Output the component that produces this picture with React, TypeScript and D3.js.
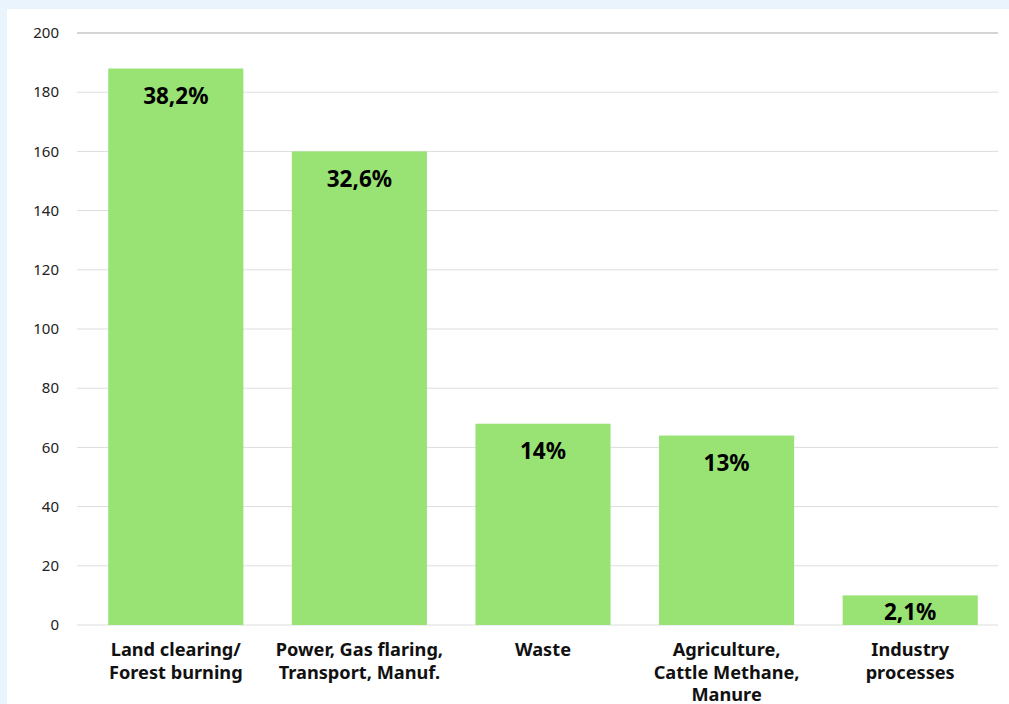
import React from "react";
import * as d3 from "d3";

const categories: string[][] = [
  ["Land clearing/", "Forest burning"],
  ["Power, Gas flaring,", "Transport, Manuf."],
  ["Waste"],
  ["Agriculture,", "Cattle Methane,", "Manure"],
  ["Industry", "processes"],
];
const values: number[] = [188, 160, 68, 64, 10];
const shares: string[] = ["38,2%", "32,6%", "14%", "13%", "2,1%"];
const yTicks: number[] = [0, 20, 40, 60, 80, 100, 120, 140, 160, 180, 200];

const W = 1009;
const H = 704;
const font = "'Noto Sans', 'Open Sans', sans-serif";

export default function App() {
  const y = d3.scaleLinear().domain([0, 200]).range([625, 33]);
  const x = d3
    .scaleBand<number>()
    .domain(values.map((_, i) => i))
    .range([84, 1002])
    .paddingInner(0.264)
    .paddingOuter(0.132);

  return (
    <svg
      width={W}
      height={H}
      style={{ position: "fixed", left: 0, top: 0, display: "block" }}
      fontFamily={font}
    >
      <rect x={0} y={0} width={W} height={H} fill="#EAF4FD" />
      <rect x={7} y={9} width={W - 7} height={H - 9} fill="#FFFFFF" />
      {yTicks.map((t) => (
        <g key={t}>
          <line
            x1={77}
            x2={998}
            y1={y(t)}
            y2={y(t)}
            stroke={t === 200 ? "#aaaaaa" : "#dddddd"}
            strokeWidth={1}
          />
          <text
            x={59}
            y={y(t)}
            dy="0.35em"
            textAnchor="end"
            fontSize={15}
            fill="#222"
          >
            {t}
          </text>
        </g>
      ))}
      {values.map((v, i) => {
        const bx = x(i)!;
        const bw = x.bandwidth();
        const ly = Math.min(y(v) + 35.5, y(0) - 5);
        return (
          <g key={i}>
            <rect x={bx} y={y(v)} width={bw} height={y(0) - y(v)} fill="#98E374" />
            <text
              x={bx + bw / 2}
              y={ly}
              textAnchor="middle"
              fontSize={22.5}
              fontWeight="bold"
              fill="#000"
            >
              {shares[i]}
            </text>
            {categories[i].map((line, j) => (
              <text
                key={j}
                x={bx + bw / 2}
                y={656 + j * 22.5}
                textAnchor="middle"
                fontSize={18.2}
                fontWeight="bold"
                fill="#111"
              >
                {line}
              </text>
            ))}
          </g>
        );
      })}
    </svg>
  );
}
